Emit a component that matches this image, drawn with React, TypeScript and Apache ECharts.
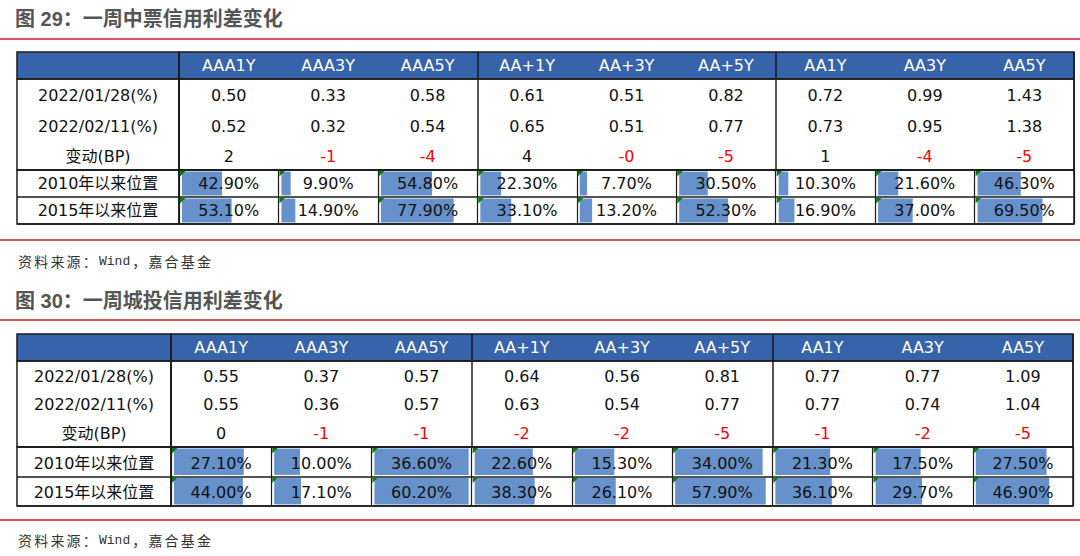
import React, { useEffect, useRef } from "react";
import * as echarts from "echarts";

// ---------- data ----------
const columns = ["AAA1Y", "AAA3Y", "AAA5Y", "AA+1Y", "AA+3Y", "AA+5Y", "AA1Y", "AA3Y", "AA5Y"];
const valueRowLabels = ["2022/01/28(%)", "2022/02/11(%)", "变动(BP)"];
const positionRowLabels = ["2010年以来位置", "2015年以来位置"];

// 图29 中票
const mtnTitle = "图 29：一周中票信用利差变化";
const mtnJan28 = [0.5, 0.33, 0.58, 0.61, 0.51, 0.82, 0.72, 0.99, 1.43];
const mtnFeb11 = [0.52, 0.32, 0.54, 0.65, 0.51, 0.77, 0.73, 0.95, 1.38];
const mtnChangeBP = [2, -1, -4, 4, -0, -5, 1, -4, -5];
const mtnPos2010 = [42.9, 9.9, 54.8, 22.3, 7.7, 30.5, 10.3, 21.6, 46.3];
const mtnPos2015 = [53.1, 14.9, 77.9, 33.1, 13.2, 52.3, 16.9, 37.0, 69.5];

// 图30 城投
const lgfvTitle = "图 30：一周城投信用利差变化";
const lgfvJan28 = [0.55, 0.37, 0.57, 0.64, 0.56, 0.81, 0.77, 0.77, 1.09];
const lgfvFeb11 = [0.55, 0.36, 0.57, 0.63, 0.54, 0.77, 0.77, 0.74, 1.04];
const lgfvChangeBP = [0, -1, -1, -2, -2, -5, -1, -2, -5];
const lgfvPos2010 = [27.1, 10.0, 36.6, 22.6, 15.3, 34.0, 21.3, 17.5, 27.5];
const lgfvPos2015 = [44.0, 17.1, 60.2, 38.3, 26.1, 57.9, 36.1, 29.7, 46.9];

const sourcePrefix = "资料来源：";
const sourceName = "Wind";
const sourceSuffix = "，嘉合基金";

// ---------- styles ----------
const FONT = '"DejaVu Sans", "Noto Sans CJK SC", sans-serif';
const BLUE = "#3763AA";
const BORDER = "#1b1b1b";
const RED = "#FF0000";
const BAR = "#6691CB";
const FLAG = "#0b7a0b";
const RULE = "#cc1f1f";

function fmtBP(v: number) {
  return v < 0 || Object.is(v, -0) ? "-" + Math.abs(v) : String(v);
}

type Cell = { col: number; row: number; text: string; color: string; frac?: number };

type Spec = {
  left: number;
  labelRight: number;
  right: number;
  headTop: number;
  bodyTop: number;
  posTop: number;
  bottom: number;
  jan: number[];
  feb: number[];
  chg: number[];
  pos: number[][];
  rowMaxScale: boolean;
};

function addTable(acc: any, spec: Spec) {
  const bands = [
    { key: "head", top: spec.headTop, height: spec.bodyTop - spec.headTop, rows: [""] },
    { key: "body", top: spec.bodyTop, height: spec.posTop - spec.bodyTop, rows: valueRowLabels },
    { key: "pos", top: spec.posTop, height: spec.bottom - spec.posTop, rows: positionRowLabels },
  ];
  const blocks = [
    { key: "label", left: spec.left, width: spec.labelRight - spec.left, cats: [""] },
    { key: "data", left: spec.labelRight, width: spec.right - spec.labelRight, cats: columns },
  ];
  const bodyRows = [spec.jan, spec.feb, spec.chg];
  for (const band of bands) {
    for (const block of blocks) {
      const gi = acc.grid.length;
      acc.grid.push({
        left: block.left,
        top: band.top,
        width: block.width,
        height: band.height,
        show: true,
        borderColor: BORDER,
        borderWidth: 1.5,
        backgroundColor: band.key === "head" ? BLUE : "transparent",
      });
      acc.xAxis.push({
        type: "category",
        gridIndex: gi,
        data: block.cats,
        axisLine: { show: false },
        axisTick: { show: false },
        axisLabel: { show: false },
        splitLine: {
          show: block.key === "data",
          interval: band.key === "pos" ? 0 : (i: number) => i % 3 === 0,
          lineStyle: { color: BORDER, width: band.key === "pos" ? 1.2 : 1.5 },
        },
      });
      acc.yAxis.push({
        type: "category",
        gridIndex: gi,
        data: band.rows,
        inverse: true,
        axisLine: { show: false },
        axisTick: { show: false },
        axisLabel: { show: false },
        splitLine: { show: band.key === "pos", interval: 0, lineStyle: { color: BORDER, width: 1.5 } },
      });

      const cells: Cell[] = [];
      if (band.key === "head" && block.key === "data") {
        columns.forEach((c, i) => cells.push({ col: i, row: 0, text: c, color: "#ffffff" }));
      } else if (band.key !== "head" && block.key === "label") {
        band.rows.forEach((t, r) => cells.push({ col: 0, row: r, text: t, color: "#111111" }));
      } else if (band.key === "body") {
        bodyRows.forEach((arr, r) =>
          arr.forEach((v, i) => {
            if (r < 2) cells.push({ col: i, row: r, text: v.toFixed(2), color: "#111111" });
            else
              cells.push({
                col: i,
                row: r,
                text: fmtBP(v),
                color: v < 0 || Object.is(v, -0) ? RED : "#111111",
              });
          })
        );
      } else if (band.key === "pos") {
        spec.pos.forEach((arr, r) => {
          const max = spec.rowMaxScale ? Math.max(...arr) : 100;
          arr.forEach((v, i) =>
            cells.push({ col: i, row: r, text: v.toFixed(2) + "%", color: "#111111", frac: v / max })
          );
        });
      }
      if (!cells.length) continue;
      acc.series.push({
        type: "custom",
        xAxisIndex: gi,
        yAxisIndex: gi,
        silent: true,
        clip: false,
        data: cells.map((c) => [c.col, c.row]),
        renderItem: (params: any, api: any) => {
          const cell = cells[params.dataIndex];
          const c = api.coord([api.value(0), api.value(1)]);
          const s = api.size([1, 1]);
          const w = s[0];
          const h = s[1];
          const x0 = c[0] - w / 2;
          const y0 = c[1] - h / 2;
          const children: any[] = [];
          if (cell.frac != null) {
            children.push({
              type: "rect",
              shape: { x: x0 + 3, y: y0 + 1.6, width: (w - 6) * cell.frac, height: h - 3.2 },
              style: { fill: BAR },
            });
            children.push({
              type: "polygon",
              shape: { points: [[x0 + 1, y0 + 1], [x0 + 6.5, y0 + 1], [x0 + 1, y0 + 6.5]] },
              style: { fill: FLAG },
            });
          }
          // Excel-style bottom aligned text
          children.push({
            type: "text",
            style: {
              text: cell.text,
              x: c[0],
              y: y0 + h - 13.5,
              align: "center",
              verticalAlign: "middle",
              fill: cell.color,
              fontSize: 16,
              fontFamily: FONT,
            },
          });
          return { type: "group", children };
        },
      });
    }
  }
}

function titleText(t: string, y: number) {
  return {
    type: "text",
    x: 15,
    y,
    style: {
      text: t,
      fill: "#555555",
      fontSize: 20,
      fontWeight: "bold",
      fontFamily: '"Liberation Sans", "Noto Sans CJK SC", sans-serif',
      verticalAlign: "middle",
    },
  };
}

function sourceText(y: number) {
  const cjk = (s: string) =>
    s
      .split("")
      .map((ch) => `{a|${ch}}`)
      .join("");
  return {
    type: "text",
    x: 18,
    y,
    style: {
      text: `${cjk(sourcePrefix)}{b|${sourceName}}${cjk(sourceSuffix)}`,
      verticalAlign: "middle",
      rich: {
        a: {
          fontSize: 14,
          width: 16.2,
          height: 18,
          lineHeight: 18,
          verticalAlign: "middle",
          fill: "#333333",
          fontFamily: '"Noto Sans CJK SC", sans-serif',
        },
        b: {
          fontSize: 13,
          height: 18,
          lineHeight: 18,
          verticalAlign: "middle",
          padding: [0, 2, 0, 0],
          fill: "#333333",
          fontFamily: '"Liberation Mono", "DejaVu Sans Mono", monospace',
        },
      },
    },
  };
}

function rule(y: number) {
  return {
    type: "line",
    shape: { x1: 0, y1: y, x2: 1080, y2: y },
    style: { stroke: RULE, lineWidth: 1.6 },
  };
}

export default function App() {
  const ref = useRef<HTMLDivElement>(null);
  useEffect(() => {
    if (!ref.current) return;
    const chart = echarts.init(ref.current, undefined, { renderer: "svg" });
    const acc: any = { grid: [], xAxis: [], yAxis: [], series: [] };
    addTable(acc, {
      left: 17,
      labelRight: 179,
      right: 1074,
      headTop: 52,
      bodyTop: 79,
      posTop: 170,
      bottom: 224,
      jan: mtnJan28,
      feb: mtnFeb11,
      chg: mtnChangeBP,
      pos: [mtnPos2010, mtnPos2015],
      rowMaxScale: false,
    });
    addTable(acc, {
      left: 17,
      labelRight: 171,
      right: 1073,
      headTop: 334,
      bodyTop: 361,
      posTop: 447,
      bottom: 506,
      jan: lgfvJan28,
      feb: lgfvFeb11,
      chg: lgfvChangeBP,
      pos: [lgfvPos2010, lgfvPos2015],
      rowMaxScale: true,
    });
    chart.setOption({
      animation: false,
      backgroundColor: "#ffffff",
      grid: acc.grid,
      xAxis: acc.xAxis,
      yAxis: acc.yAxis,
      series: acc.series,
      graphic: [
        titleText(mtnTitle, 18.5),
        rule(39),
        sourceText(261),
        rule(240),
        titleText(lgfvTitle, 300.5),
        rule(320),
        rule(520),
        sourceText(540),
      ],
    });
    return () => chart.dispose();
  }, []);
  return (
    <div
      ref={ref}
      style={{ position: "absolute", left: 0, top: 0, width: 1080, height: 556, background: "#fff" }}
    />
  );
}
